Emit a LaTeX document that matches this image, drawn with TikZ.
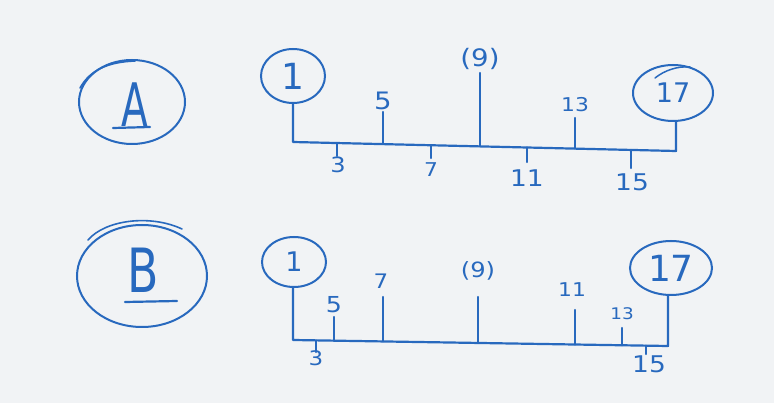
\documentclass[tikz,border=0pt]{standalone}
\usepackage{fontspec}
\setsansfont{DejaVu Sans}
\usetikzlibrary{shapes.geometric}
\definecolor{ink}{RGB}{40,105,190}
\definecolor{paper}{RGB}{241,243,245}
\begin{document}
\begin{tikzpicture}[x=1pt,y=-1pt,
  inkline/.style={draw=ink,line width=2.2pt,line cap=round,line join=round},
  oval/.style={ellipse,draw=ink,line width=2pt,inner sep=0pt,text=ink},
  lbl/.style={text=ink,inner sep=0pt,xscale=1.15,font=\sffamily\fontsize{#1}{#1}\selectfont},
  big/.style={text=ink,inner sep=0pt,font=\sffamily\fontsize{#1}{#1}\selectfont}]
\fill[paper] (0,0) rectangle (774,403);
\useasboundingbox (0,0) rectangle (774,403);

% ---------- A ----------
\node[oval,minimum width=106pt,minimum height=84pt] (ca) at (132,102) {};
\node[big=60,xscale=0.65] (la) at (135,105) {A};
\draw[inkline] (113,128) -- (150,127);
\draw[inkline,line width=1.6pt] (80,88) .. controls (90,70) and (108,62) .. (135,61);

\node[oval,minimum width=64pt,minimum height=54pt,font=\sffamily\fontsize{36}{36}\selectfont] (a1) at (293,76) {1};
\node[oval,minimum width=80pt,minimum height=56pt,font=\sffamily\fontsize{27}{27}\selectfont] (a17) at (673,93) {17};
\draw[inkline,line width=1.5pt] (655,78) .. controls (665,70) and (678,66) .. (690,67);
\coordinate (aL) at (293,142);
\coordinate (aR) at (676,151);
\draw[inkline] (a1.south) -- (aL) -- (aR) -- (aR |- a17.south);

% ticks up
\coordinate (a5b) at (383,144.1);  \coordinate (a5e) at (383,112);
\coordinate (a9b) at (480,146.4);  \coordinate (a9e) at (480,73);
\coordinate (a13b) at (575,148.6); \coordinate (a13e) at (575,118);
% ticks down
\coordinate (a3b) at (337,143.1);  \coordinate (a3e) at (337,156);
\coordinate (a7b) at (431,145.3);  \coordinate (a7e) at (431,158);
\coordinate (a11b) at (527,147.5); \coordinate (a11e) at (527,162);
\coordinate (a15b) at (631,149.9); \coordinate (a15e) at (631,168);
\foreach \t in {a5,a9,a13,a3,a7,a11,a15}{\draw[inkline] (\t b) -- (\t e);}

\node[lbl=21] (ta3) at (338,165) {3};
\node[lbl=24] (ta5) at (383,101) {5};
\node[lbl=19] (ta7) at (431,170) {7};
\node[lbl=24] (ta9) at (480,59) {(9)};
\node[lbl=23] (ta11) at (527,178) {11};
\node[lbl=19] (ta13) at (575,105) {13};
\node[lbl=23] (ta15) at (632,182) {15};

% ---------- B ----------
\node[oval,minimum width=130pt,minimum height=102pt] (cb) at (142,276) {};
\node[big=61,xscale=0.75] (lb) at (143,270) {B};
\draw[inkline] (125,302) -- (177,301);
\draw[inkline,line width=1.6pt] (88,240) .. controls (105,220) and (150,214) .. (182,229);

\node[oval,minimum width=64pt,minimum height=50pt,font=\sffamily\fontsize{27}{27}\selectfont] (b1) at (294,262) {1};
\node[oval,minimum width=82pt,minimum height=54pt,font=\sffamily\fontsize{36}{36}\selectfont] (b17) at (671,268) {17};
\coordinate (bL) at (293,340);
\coordinate (bR) at (668,346);
\draw[inkline] (b1.south -| bL) -- (bL) -- (bR) -- (bR |- b17.south);

% ticks up
\coordinate (b5b) at (334,340.7);  \coordinate (b5e) at (334,317);
\coordinate (b7b) at (383,341.4);  \coordinate (b7e) at (383,297);
\coordinate (b9b) at (478,343);    \coordinate (b9e) at (478,297);
\coordinate (b11b) at (575,344.5); \coordinate (b11e) at (575,310);
\coordinate (b13b) at (622,345.3); \coordinate (b13e) at (622,328);
% ticks down
\coordinate (b3b) at (316,340.4);  \coordinate (b3e) at (316,352);
\coordinate (b15b) at (646,345.6); \coordinate (b15e) at (646,354);
\foreach \t in {b5,b7,b9,b11,b13,b3,b15}{\draw[inkline] (\t b) -- (\t e);}

\node[lbl=20] (tb3) at (316,358) {3};
\node[lbl=22] (tb5) at (334,305) {5};
\node[lbl=20] (tb7) at (381,281) {7};
\node[lbl=21] (tb9) at (478,271) {(9)};
\node[lbl=19] (tb11) at (572,290) {11};
\node[lbl=16] (tb13) at (622,314) {13};
\node[lbl=23] (tb15) at (649,364) {15};
\end{tikzpicture}
\end{document}
